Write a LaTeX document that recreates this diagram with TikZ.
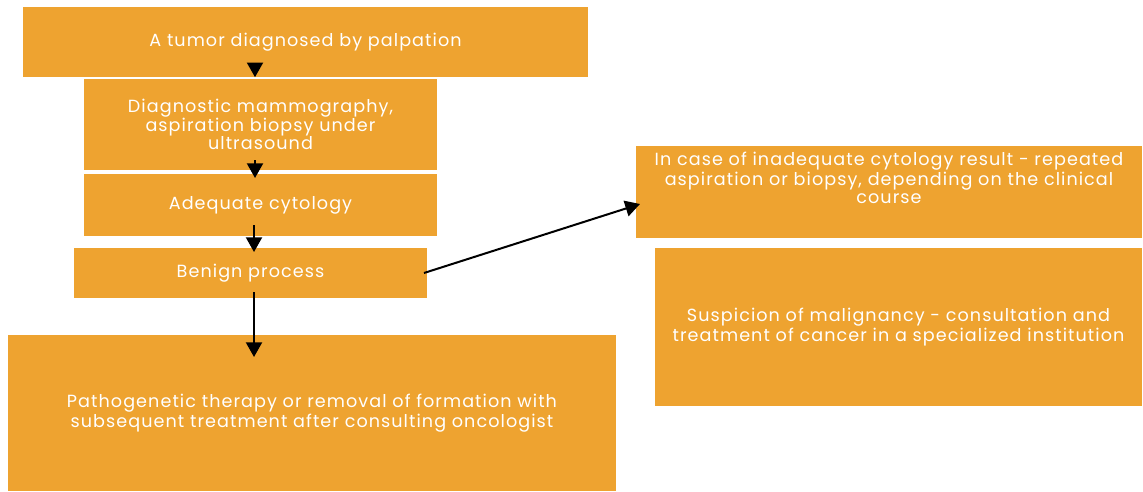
\documentclass[tikz,border=0pt]{standalone}
\usepackage{fontspec}
\setmainfont[LetterSpace=6]{Poppins}
\usetikzlibrary{arrows.meta}
\definecolor{boxorange}{RGB}{238,163,48}
\tikzset{
  box/.style={rectangle, fill=boxorange, draw=white, line width=1.2pt,
    inner sep=0pt, text=white, align=center,
    font=\fontsize{13.2}{13.5}\selectfont},
  txt/.style={inner sep=0pt, text=white, align=center,
    font=\fontsize{13.2}{13.5}\selectfont},
  arr/.style={line width=1.5pt, -{Triangle[length=11pt,width=12pt]}}
}
\begin{document}
\begin{tikzpicture}[x=0.75pt,y=-0.75pt]
\useasboundingbox (0,0) rectangle (1143,492);
\node[box, minimum width=567*0.75pt, minimum height=72*0.75pt] (b1) at (305.5,42) {A tumor diagnosed by palpation};
\node[box, minimum width=355*0.75pt, minimum height=93*0.75pt] (b2) at (260.5,124.5) {Diagnostic mammography,\\aspiration biopsy under\\ultrasound};
\node[box, minimum width=355*0.75pt, minimum height=64*0.75pt] (b3) at (260.5,205) {Adequate cytology};
\node[box, minimum width=355*0.75pt, minimum height=52*0.75pt] (b4) at (250.5,273) {Benign process};
\node[box, minimum width=610*0.75pt, minimum height=158*0.75pt] (b5) at (312,413) {Pathogenetic therapy or removal of formation with\\subsequent treatment after consulting oncologist};
\node[box, minimum width=508*0.75pt, minimum height=94*0.75pt] (b6) at (889,192) {};
\node[txt] (t6) at (889,178) {In case of inadequate cytology result - repeated\\aspiration or biopsy, depending on the clinical\\course};
\node[box, minimum width=489*0.75pt, minimum height=160*0.75pt] (b7) at (898.5,327) {Suspicion of malignancy - consultation and\\treatment of cancer in a specialized institution};
\coordinate (s1) at (255,64);
\coordinate (s2) at (255,160);
\coordinate (s3) at (254,225);
\coordinate (s4) at (254,292);
\coordinate (s5) at (424,273);
\coordinate (e2) at (255,178);
\coordinate (e3) at (254,252);
\coordinate (e4) at (254,357);
\coordinate (e5) at (640,204);
\draw[arr] (s1) -- (s1 |- b2.north);
\draw[arr] (s2) -- (e2);
\draw[arr] (s3) -- (e3);
\draw[arr] (s4) -- (e4);
\draw[arr] (s5) -- (e5);
\end{tikzpicture}
\end{document}
